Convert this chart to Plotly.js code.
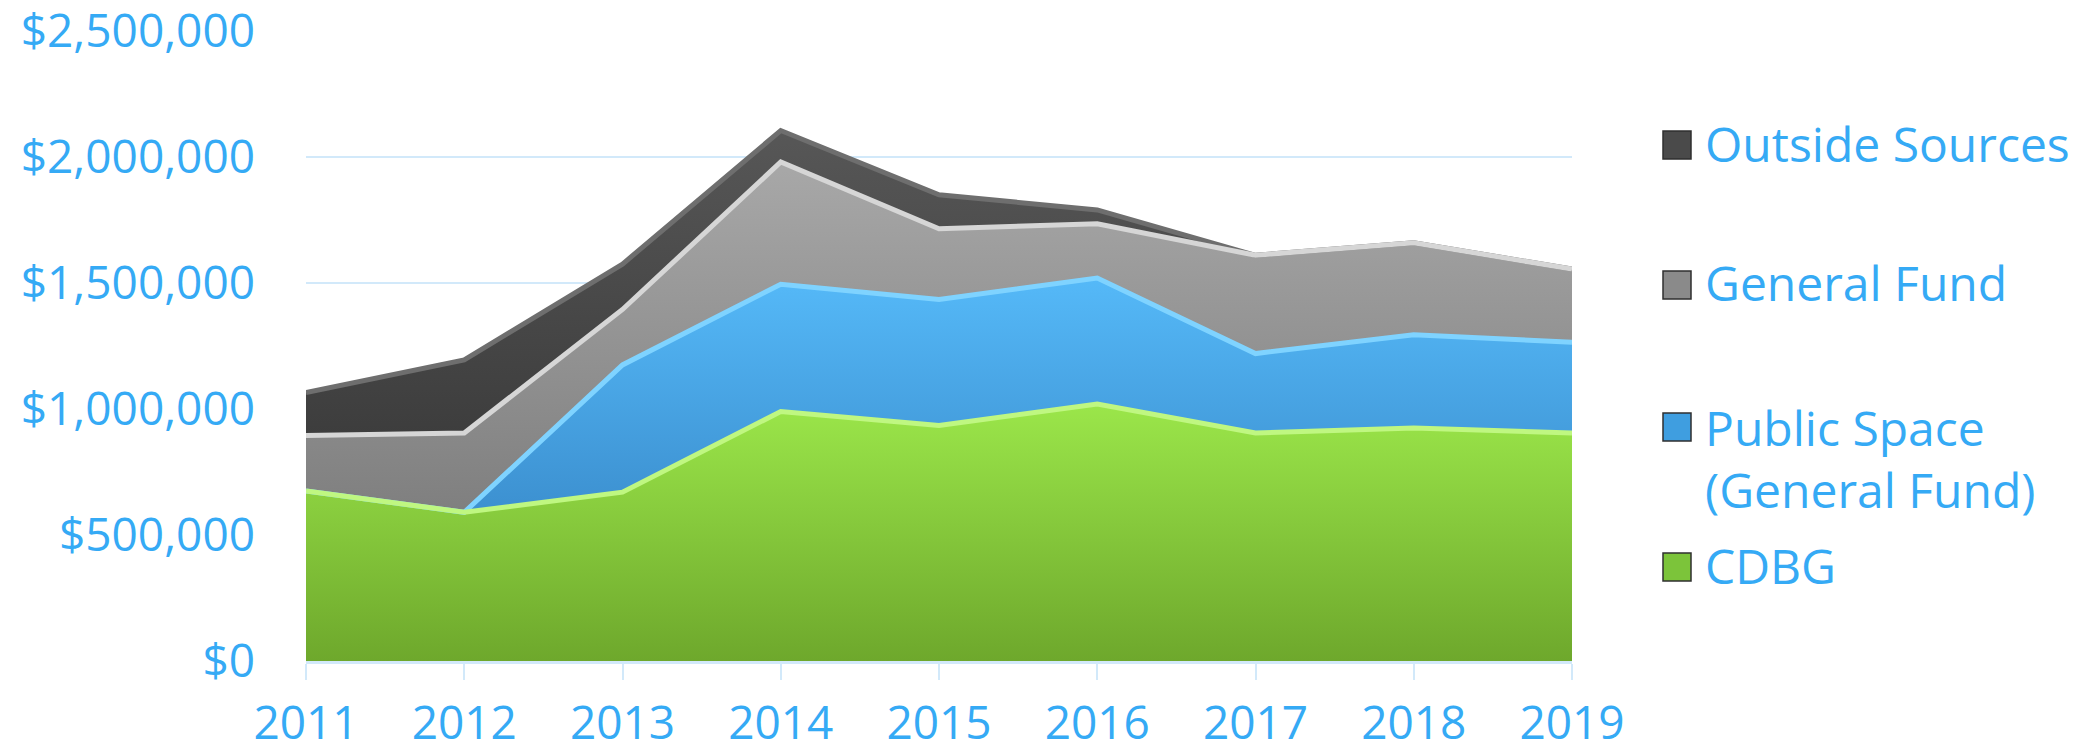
<!DOCTYPE html>
<html>
<head>
<meta charset="utf-8">
<script src="https://cdn.plot.ly/plotly-3.0.1.min.js"></script>
<style>
  html, body { margin: 0; padding: 0; background: #ffffff; }
  #chart { width: 2089px; height: 753px; }
</style>
</head>
<body>
<div id="chart"></div>
<script>
// ---- data ----
const years = [2011, 2012, 2013, 2014, 2015, 2016, 2017, 2018, 2019];
const cdbg = [675000, 590000, 670000, 990000, 935000, 1020000, 905000, 925000, 905000];
const publicSpace = [0, 0, 505000, 505000, 500000, 500000, 315000, 370000, 360000];
const generalFund = [220000, 315000, 220000, 485000, 280000, 215000, 390000, 365000, 290000];
const outsideSources = [170000, 290000, 180000, 125000, 135000, 55000, 0, 0, 0];
const seriesNames = ['CDBG', 'Public Space<br>(General Fund)', 'General Fund', 'Outside Sources'];
const yTickVals = [0, 500000, 1000000, 1500000, 2000000, 2500000];

// ---- styles ----
const seriesValues = [cdbg, publicSpace, generalFund, outsideSources];
const topColors = ['#9be64a', '#55b9f8', '#a8a8a8', '#575757'];
const bottomColors = ['#6ea82c', '#3c90d0', '#7f7f7f', '#3d3d3d'];
const highlightColors = ['#bff781', '#7fd3ff', '#d6d6d6', '#6e6e6e'];
const legendColors = ['#7cc43a', '#3f9ee0', '#8a8a8a', '#4a4a4a'];
const labelColor = '#35aaf5';
const gridColor = '#d2e9fa';
const font = 'Open Sans, Noto Sans, sans-serif';

const traces = [];
seriesValues.forEach((vals, i) => {
  traces.push({
    type: 'scatter', mode: 'lines', x: years, y: vals,
    name: seriesNames[i].replace('<br>', ' '),
    stackgroup: 'one',
    line: { width: 0, color: topColors[i] },
    fillgradient: { type: 'vertical', colorscale: [[0, bottomColors[i]], [1, topColors[i]]] },
    fillcolor: topColors[i],
    hoverinfo: 'skip', showlegend: false
  });
});

// cumulative tops for the bevel highlight edges (drawn top series first)
const cumulative = [];
seriesValues.forEach((vals, i) => {
  cumulative.push(vals.map((v, j) => v + (i > 0 ? cumulative[i - 1][j] : 0)));
});
for (let i = seriesValues.length - 1; i >= 0; i--) {
  traces.push({
    type: 'scatter', mode: 'lines', x: years, y: cumulative[i],
    line: { width: 5, color: highlightColors[i] },
    hoverinfo: 'skip', showlegend: false
  });
}

// ---- custom legend (Excel-style squares) ----
const W = 2089, H = 753, L = 306, R = 517, T = 31, B = 92;
const pw = W - L - R, ph = H - T - B;
const px = X => (X - L) / pw;
const py = Y => (H - B - Y) / ph;
const legendOrder = [3, 2, 1, 0];
const legendSquareY = [145, 285, 427, 567];
const legendTextY = [143, 282, 458, 565];
const shapes = [], annotations = [];
legendOrder.forEach((si, k) => {
  shapes.push({
    type: 'rect', xref: 'paper', yref: 'paper',
    x0: px(1663), x1: px(1691), y0: py(legendSquareY[k] + 14), y1: py(legendSquareY[k] - 14),
    fillcolor: legendColors[si], line: { color: '#2f2f2f', width: 1.5 }, layer: 'above'
  });
  annotations.push({
    xref: 'paper', yref: 'paper', x: px(1703), y: py(legendTextY[k]),
    xanchor: 'left', yanchor: 'middle', align: 'left', showarrow: false,
    text: seriesNames[si],
    font: { family: font, size: 48, color: labelColor }
  });
});

const layout = {
  width: W, height: H,
  margin: { l: L, r: R, t: T, b: B, pad: 0 },
  paper_bgcolor: '#ffffff', plot_bgcolor: '#ffffff',
  showlegend: false,
  xaxis: {
    range: [2011, 2019], tickvals: years, ticktext: years.map(String),
    ticks: 'outside', ticklen: 16, tickwidth: 2, tickcolor: gridColor,
    showgrid: false, zeroline: false,
    showline: true, linecolor: gridColor, linewidth: 3,
    ticklabelstandoff: 4,
    ticklabeloverflow: 'allow',
    tickfont: { family: font, size: 46, color: labelColor },
    fixedrange: true
  },
  yaxis: {
    range: [0, 2500000], tickvals: yTickVals, tickformat: '$,',
    showgrid: true, gridcolor: gridColor, gridwidth: 2,
    zeroline: false, showline: false, ticks: '',
    ticklabelstandoff: 50,
    ticklabeloverflow: 'allow',
    tickfont: { family: font, size: 46, color: labelColor },
    fixedrange: true
  },
  shapes: shapes,
  annotations: annotations
};

Plotly.newPlot('chart', traces, layout, { staticPlot: true, displayModeBar: false });
</script>
</body>
</html>
